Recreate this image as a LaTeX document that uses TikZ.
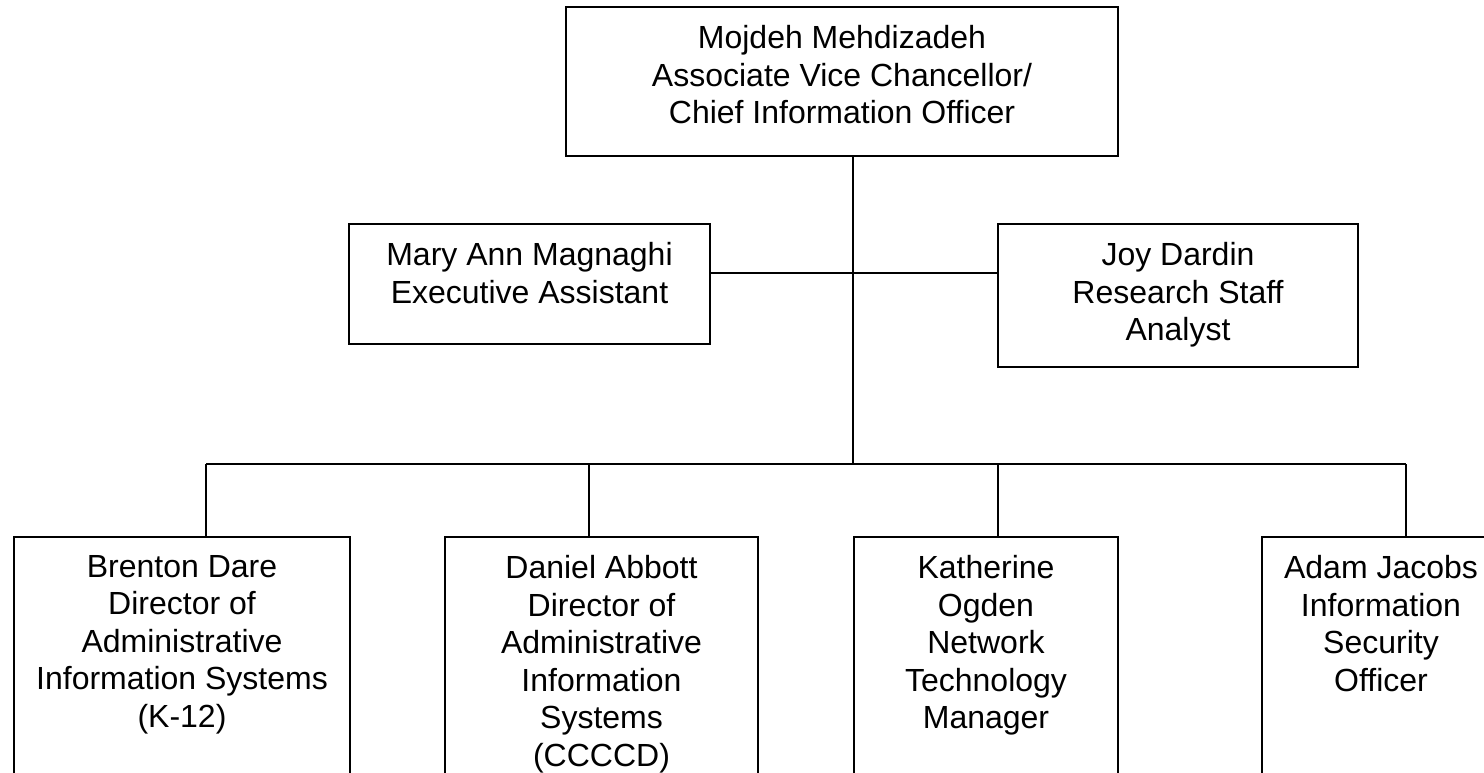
\documentclass[tikz,border=0pt]{standalone}
\usepackage{fontspec}
\setmainfont{Liberation Sans}
\usetikzlibrary{calc}
\tikzset{
  box/.style={draw=black, line width=1.5pt, inner sep=0pt, rectangle},
  txt/.style={anchor=north, inner sep=0pt, align=center, font=\fontsize{32}{37.5}\selectfont},
  link/.style={draw=black, line width=1.4pt}
}
\begin{document}
\begin{tikzpicture}[x=1pt,y=-1pt]
\useasboundingbox (0,0) rectangle (1484,773);
\clip (0,0) rectangle (1484,773);
\fill[white] (0,0) rectangle (1484,773);
% boxes
\node[box, minimum width=552pt, minimum height=149pt] (top) at (842,81.5) {};
\node[box, minimum width=361pt, minimum height=120pt] (mary) at (529.5,284) {};
\node[box, minimum width=360pt, minimum height=143pt] (joy) at (1178,295.5) {};
\node[box, minimum width=336pt, minimum height=263pt] (b1) at (182,668.5) {};
\node[box, minimum width=313pt, minimum height=263pt] (b2) at (601.5,668.5) {};
\node[box, minimum width=264pt, minimum height=263pt] (b3) at (986,668.5) {};
\node[box, minimum width=238pt, minimum height=263pt] (b4) at (1381,668.5) {};
% texts
\node[txt] (topt) at ($(top.north)+(0,19)$) {Mojdeh Mehdizadeh\\Associate Vice Chancellor/\\Chief Information Officer};
\node[txt] (maryt) at ($(mary.north)+(0,19)$) {Mary Ann Magnaghi\\Executive Assistant};
\node[txt] (joyt) at ($(joy.north)+(0,19)$) {Joy Dardin\\Research Staff\\Analyst};
\node[txt] (b1t) at ($(b1.north)+(0,19)$) {Brenton Dare\\Director of\\Administrative\\Information Systems\\(K-12)};
\node[txt] (b2t) at ($(b2.north)+(0,19)$) {Daniel Abbott\\Director of\\Administrative\\Information\\Systems\\(CCCCD)};
\node[txt] (b3t) at ($(b3.north)+(0,19)$) {Katherine\\Ogden\\Network\\Technology\\Manager};
\node[txt] (b4t) at ($(b4.north)+(0,19)$) {Adam Jacobs\\Information\\Security\\Officer};
% connector points
\coordinate (bus) at (853,464);
\coordinate (asst) at (853,273);
\coordinate (d1) at (206,464);
\coordinate (d2) at (589,464);
\coordinate (d3) at (998,464);
\coordinate (d4) at (1406,464);
% connectors
\draw[link] (top.south -| bus) -- (bus);
\draw[link] (mary.east |- asst) -- (joy.west |- asst);
\draw[link] (d1) -- (d4);
\draw[link] (d1) -- (d1 |- b1.north);
\draw[link] (d2) -- (d2 |- b2.north);
\draw[link] (d3) -- (d3 |- b3.north);
\draw[link] (d4) -- (d4 |- b4.north);
\end{tikzpicture}
\end{document}
